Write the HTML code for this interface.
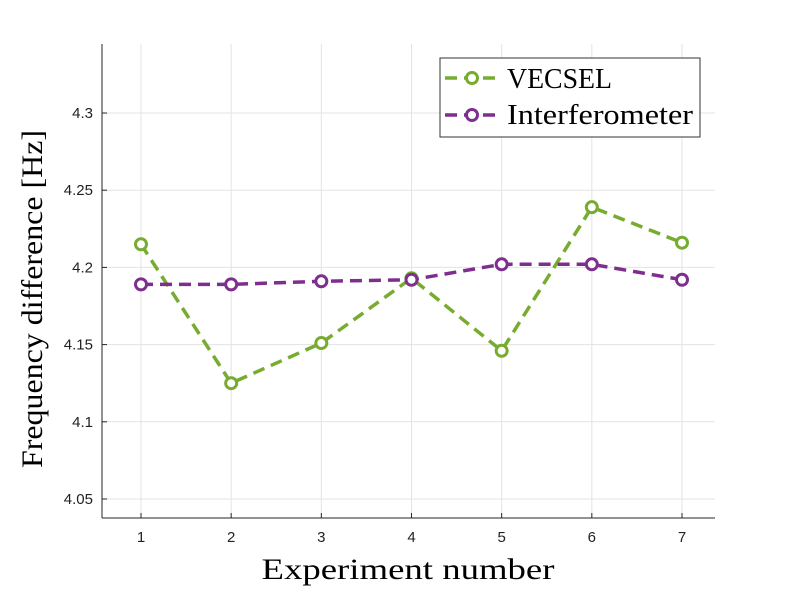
<!DOCTYPE html>
<html><head><meta charset="utf-8"><style>body{margin:0;background:#fff}svg{display:block}</style></head>
<body>
<svg id="chart" width="789" height="592" xmlns="http://www.w3.org/2000/svg">
<g id="grid"></g>
<g id="axes"></g>
<g id="series"></g>
<text x="408" y="579" text-anchor="middle" font-family="Liberation Serif, serif" font-size="30" textLength="293" lengthAdjust="spacingAndGlyphs">Experiment number</text>
<text transform="translate(42,299) rotate(-90)" text-anchor="middle" font-family="Liberation Serif, serif" font-size="30" textLength="338" lengthAdjust="spacingAndGlyphs">Frequency difference [Hz]</text>
<g>
<rect x="440" y="58" width="260" height="79" fill="#fff" stroke="#333" stroke-width="1"/>
<g>
<line x1="445" y1="78" x2="500" y2="78" stroke="#77ac30" stroke-width="3.5" stroke-dasharray="12,7"/>
<circle cx="472" cy="78" r="5.5" fill="#fff" stroke="#77ac30" stroke-width="3"/>
<text x="507" y="88" font-family="Liberation Serif, serif" font-size="28" textLength="105" lengthAdjust="spacingAndGlyphs">VECSEL</text></g>
<g>
<line x1="445" y1="115" x2="500" y2="115" stroke="#7e2f8e" stroke-width="3.5" stroke-dasharray="12,7"/>
<circle cx="472" cy="115" r="5.5" fill="#fff" stroke="#7e2f8e" stroke-width="3"/>
<text x="507" y="124" font-family="Liberation Serif, serif" font-size="28" textLength="186" lengthAdjust="spacingAndGlyphs">Interferometer</text></g>
</g>
</svg>
<script>
const categories=[1,2,3,4,5,6,7];
const vecsel=[4.215,4.125,4.151,4.193,4.146,4.239,4.216];
const interferometer=[4.189,4.189,4.191,4.192,4.202,4.202,4.192];
const yTicks=[4.05,4.1,4.15,4.2,4.25,4.3];
const yTickLabels=["4.05","4.1","4.15","4.2","4.25","4.3"];
const NS="http://www.w3.org/2000/svg";
const L=102,R=715,T=44,B=518;
const x=v=>141+(v-1)*(682-141)/6;
const y=v=>499-(v-4.05)*(499-113)/0.25;
function mk(tag,attrs,parent){const e=document.createElementNS(NS,tag);for(const k in attrs)e.setAttribute(k,attrs[k]);parent.appendChild(e);return e;}
const grid=document.getElementById('grid'),axes=document.getElementById('axes'),series=document.getElementById('series');
categories.forEach(c=>{
  const g=mk('line',{x1:x(c),x2:x(c),y1:T,y2:B,stroke:'#e3e3e3','stroke-width':1},grid);
  
  
  const t=mk('text',{x:x(c),y:B+24,'text-anchor':'middle','font-family':'Liberation Sans, sans-serif','font-size':15,fill:'#222'},axes);
  t.textContent=c;
  
  
  mk('line',{x1:x(c),x2:x(c),y1:B,y2:B-5,stroke:'#262626'},axes);
});
yTicks.forEach((v,i)=>{
  const g=mk('line',{x1:L,x2:R,y1:y(v),y2:y(v),stroke:'#e3e3e3','stroke-width':1},grid);
  
  
  const t=mk('text',{x:L-9,y:y(v)+5,'text-anchor':'end','font-family':'Liberation Sans, sans-serif','font-size':15,fill:'#222'},axes);
  t.textContent=yTickLabels[i];
  
  
  mk('line',{x1:L,x2:L+5,y1:y(v),y2:y(v),stroke:'#262626'},axes);
});
const xa=mk('line',{x1:L,x2:R,y1:B,y2:B,stroke:'#262626'},axes);


const ya=mk('line',{x1:L,x2:L,y1:T,y2:B,stroke:'#262626'},axes);


function draw(vals,color,name){
  const p=mk('polyline',{points:vals.map((v,i)=>x(categories[i])+','+y(v)).join(' '),fill:'none',stroke:color,'stroke-width':3.5,'stroke-dasharray':'12,7'},series);
  
  
  vals.forEach((v,i)=>{
    const c=mk('circle',{cx:x(categories[i]),cy:y(v),r:5.5,fill:'#fff',stroke:color,'stroke-width':3},series);
    
    
  });
}
draw(vecsel,'#77ac30','vecsel');
draw(interferometer,'#7e2f8e','interferometer');
</script>
</body></html>
